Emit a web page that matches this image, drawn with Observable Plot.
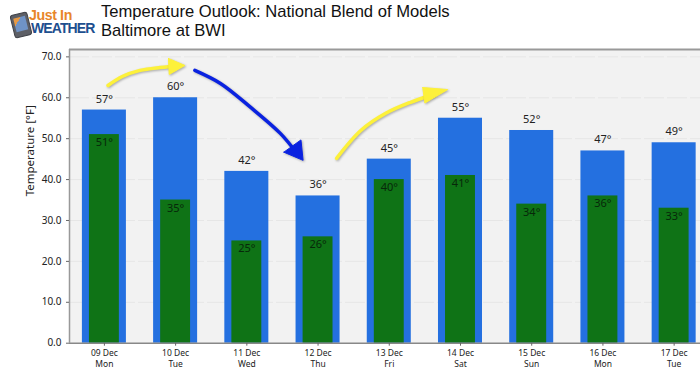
<!DOCTYPE html>
<html>
<head>
<meta charset="utf-8">
<script src="https://cdn.jsdelivr.net/npm/d3@7"></script>
<script src="https://cdn.jsdelivr.net/npm/@observablehq/plot@0.6"></script>
<style>
html,body{margin:0;padding:0;background:#fff;width:700px;height:376px;overflow:hidden}
#head{position:relative;width:700px;height:46px;overflow:hidden;font-family:"Liberation Sans",Arial,sans-serif}
#t1,#t2{position:absolute;left:101px;font-size:16.6px;line-height:19px;color:#111;white-space:nowrap}
#t1{top:2px}#t2{top:21px}
#phone{position:absolute;left:12px;top:13px;width:16px;height:22px;background:#5d5f66;border-radius:3px;transform:rotate(-14deg);border:1.5px solid #3e4046;box-sizing:content-box}
#screen{position:absolute;left:2px;top:3px;width:12px;height:14px;background:linear-gradient(135deg,#e79a45 0 30%,#6f93c6 30% 100%)}
#j{position:absolute;left:29px;top:9px;font:bold 14.2px "Liberation Sans",sans-serif;color:#e8862a;letter-spacing:-.4px;line-height:12px}
#w{position:absolute;left:31px;top:22px;font:bold 14px "Liberation Sans",sans-serif;color:#1d4f8f;letter-spacing:-.9px;line-height:13px}
.arrow{filter:drop-shadow(1px 1px 1px rgba(0,0,0,.3))}
</style>
</head>
<body>
<div id="head">
  <div id="phone"><div id="screen"></div></div>
  <div id="j">Just In</div>
  <div id="w">WEATHER</div>
  <div id="t1">Temperature Outlook: National Blend of Models</div>
  <div id="t2">Baltimore at BWI</div>
</div>
<div id="chart"></div>
<script>
const dates = ["09 Dec","10 Dec","11 Dec","12 Dec","13 Dec","14 Dec","15 Dec","16 Dec","17 Dec"];
const weekdays = ["Mon","Tue","Wed","Thu","Fri","Sat","Sun","Mon","Tue"];
const highs = [57,60,42,36,45,55,52,47,49];
const lows = [51,35,25,26,40,41,34,36,33];
const yTicks = [0,10,20,30,40,50,60,70];

// annotation arrows, in [day position, °F]
const yellow1 = [[0.05,63.0],[0.25,65.2],[0.5,66.7],[0.78,67.4],[0.9,67.6]];
const yellow1Head = [[0.9,69.6],[1.13,67.9],[0.91,65.7]];
const blue = [[1.27,66.7],[1.63,63.5],[2.05,57.7],[2.47,51.3],[2.7,46.5]];
const blueHead = [[2.52,46.7],[2.79,44.7],[2.76,49.7]];
const yellow2 = [[3.26,45.2],[3.6,52.0],[3.95,56.2],[4.3,58.9],[4.62,60.8]];
const yellow2Head = [[4.47,62.5],[4.82,62.0],[4.5,58.7]];

const days = dates.map((d,i)=>({i,date:d,weekday:weekdays[i],high:highs[i],low:lows[i]}));
const font = '"Noto Sans","Open Sans",sans-serif';
const line = (pts,color,w)=>Plot.line(pts,{x:"0",y:"1",stroke:color,strokeWidth:w,curve:"catmull-rom",strokeLinecap:"round",className:"arrow"});
const head = (pts,color)=>Plot.line([...pts,pts[0]],{x:"0",y:"1",stroke:color,strokeWidth:1,fill:color,className:"arrow"});

const plot = Plot.plot({
  width:700, height:330,
  marginLeft:69, marginRight:0, marginTop:3, marginBottom:33.3,
  style:{fontFamily:font,background:"transparent",overflow:"hidden"},
  x:{domain:[-0.49,8.37]},
  y:{domain:[0,71.8]},
  marks:[
    Plot.frame({fill:"#f2f2f2",stroke:null}),
    Plot.ruleY(yTicks.slice(1),{stroke:"#e6e6e6",strokeWidth:1,strokeDasharray:"20 3"}),
    Plot.rectY(days,{x1:d=>d.i-0.309,x2:d=>d.i+0.309,y1:0,y2:"high",fill:"#2470e0"}),
    Plot.rectY(days,{x1:d=>d.i-0.21,x2:d=>d.i+0.21,y1:0,y2:"low",fill:"#0f7316"}),
    Plot.text(days,{x:"i",y:"high",text:d=>d.high+"°",dy:-11,fontSize:11,fill:"#222"}),
    Plot.text(days,{x:"i",y:"low",text:d=>d.low+"°",dy:8,fontSize:11,fill:"#07280a"}),
    Plot.ruleX([-0.49],{stroke:"#999",strokeWidth:1.5}),
    Plot.ruleY([71.8],{stroke:"#999",strokeWidth:2}),
    Plot.ruleY([0],{stroke:"#888",strokeWidth:1.5}),
    Plot.axisY({ticks:yTicks,tickFormat:d=>d.toFixed(1),tickSize:3,tickPadding:5,fontSize:10,color:"#222",stroke:"#666",label:null}),
    Plot.text(["Temperature [°F]"],{frameAnchor:"left",rotate:-90,dx:-39,fontSize:11.5,fill:"#222"}),
    Plot.axisX({ticks:d3.range(9),tickFormat:i=>dates[i]+"\n"+weekdays[i],tickSize:3,tickPadding:3,fontSize:8.5,lineHeight:1.2,color:"#222",stroke:"#666",label:null}),
    line(yellow1,"#fdf13a",3.5),head(yellow1Head,"#fdf13a"),
    line(blue,"#0a22e0",3.5),head(blueHead,"#0a22e0"),
    line(yellow2,"#fdf13a",3.5),head(yellow2Head,"#fdf13a")
  ]
});
document.getElementById("chart").appendChild(plot);
</script>
</body>
</html>
